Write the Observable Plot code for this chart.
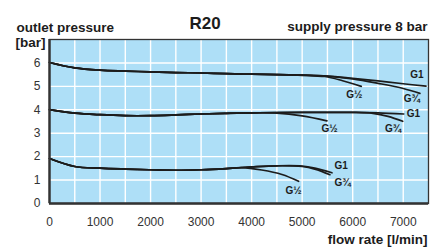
<!DOCTYPE html>
<html>
<head>
<meta charset="utf-8">
<script src="https://cdn.jsdelivr.net/npm/d3@7"></script>
<script src="https://cdn.jsdelivr.net/npm/@observablehq/plot@0.6"></script>
<style>
  html, body { margin: 0; padding: 0; background: #fff; }
  #chart svg { display: block; }
</style>
</head>
<body>
<div id="chart"></div>
<script>
// ---- data (flow rate l/min, outlet pressure bar) ----
const xTicks = [0, 1000, 2000, 3000, 4000, 5000, 6000, 7000];
const yTicks = [0, 1, 2, 3, 4, 5, 6];
const gridX = [500, 1000, 1500, 2000, 2500, 3000, 3500, 4000, 4500, 5000, 5500, 6000, 6500, 7000];
const gridY = [1, 2, 3, 4, 5, 6];

// inlet setting 6 bar
const top_G1   = [[0,6.02],[500,5.79],[1000,5.69],[1500,5.65],[2000,5.62],[2500,5.59],[3000,5.57],[3500,5.54],[4000,5.52],[4500,5.50],[5000,5.48],[5500,5.44],[6000,5.34],[6500,5.23],[7000,5.11],[7450,5.01]];
const top_G34  = [[0,6.02],[500,5.79],[1000,5.69],[1500,5.65],[2000,5.62],[2500,5.59],[3000,5.57],[3500,5.54],[4000,5.52],[4500,5.50],[5000,5.48],[5500,5.44],[6000,5.32],[6500,5.13],[7000,4.91],[7330,4.70]];
const top_G12  = [[0,6.02],[500,5.79],[1000,5.69],[1500,5.65],[2000,5.62],[2500,5.59],[3000,5.57],[3500,5.54],[4000,5.52],[4500,5.50],[5000,5.47],[5450,5.42],[5800,5.24],[6170,5.00]];
// setting 4 bar
const mid_G1   = [[0,4.01],[500,3.86],[1000,3.79],[1500,3.75],[2000,3.75],[2500,3.78],[3000,3.82],[3500,3.85],[4000,3.87],[4500,3.88],[5000,3.89],[5500,3.89],[6000,3.89],[6500,3.87],[7010,3.82]];
const mid_G34  = [[0,4.01],[500,3.86],[1000,3.79],[1500,3.75],[2000,3.75],[2500,3.78],[3000,3.82],[3500,3.85],[4000,3.87],[4500,3.88],[5000,3.89],[5500,3.89],[6000,3.89],[6400,3.85],[6700,3.72],[6990,3.51]];
const mid_G12  = [[0,4.01],[500,3.86],[1000,3.79],[1500,3.75],[2000,3.75],[2500,3.78],[3000,3.82],[3500,3.85],[4000,3.87],[4500,3.86],[5000,3.74],[5490,3.53]];
// setting 2 bar
const bot_G1   = [[0,1.92],[500,1.58],[1000,1.51],[1500,1.47],[2000,1.44],[2500,1.42],[3000,1.44],[3500,1.49],[4000,1.56],[4500,1.61],[5000,1.60],[5250,1.51],[5590,1.31]];
const bot_G34  = [[0,1.92],[500,1.58],[1000,1.51],[1500,1.47],[2000,1.44],[2500,1.42],[3000,1.44],[3500,1.49],[4000,1.56],[4500,1.61],[5000,1.58],[5250,1.47],[5550,1.23]];
const bot_G12  = [[0,1.92],[500,1.58],[1000,1.51],[1500,1.47],[2000,1.44],[2500,1.42],[3000,1.44],[3500,1.49],[3800,1.53],[4200,1.43],[4600,1.24],[4930,0.95]];

const seriesNames = ["top_G1","top_G34","top_G12","mid_G1","mid_G34","mid_G12","bot_G1","bot_G34","bot_G12"];
const seriesData  = [top_G1, top_G34, top_G12, mid_G1, mid_G34, mid_G12, bot_G1, bot_G34, bot_G12];

// curve labels
const labelText = ["G1","G¾","G½","G1","G¾","G½","G1","G¾","G½"];
const labelX    = [7270, 7170, 6030, 7200, 6800, 5540, 5770, 5800, 4830];
const labelY    = [5.48, 4.45, 4.65, 3.84, 3.20, 3.20, 1.60, 0.90, 0.54];

// titles
const titleLeft1 = "outlet pressure";
const titleLeft2 = "[bar]";
const titleMain  = "R20";
const titleRight = "supply pressure 8 bar";
const xLabel     = "flow rate [l/min]";

// ---- build tables ----
const lineRows = seriesData.flatMap((s, i) => s.map(([f, p]) => ({id: seriesNames[i], flow: f, p})));
const labelRows = labelText.map((t, i) => ({t, x: labelX[i], y: labelY[i]}));

const ink = "#1c1c1c";
const chart = Plot.plot({
  width: 438,
  height: 248,
  marginTop: 39,
  marginRight: 10,
  marginBottom: 45,
  marginLeft: 49,
  style: {fontFamily: "'Liberation Sans', Arial, Helvetica, sans-serif", background: "#fff", overflow: "visible"},
  x: {domain: [0, 7500]},
  y: {domain: [0, 7]},
  marks: [
    Plot.frame({fill: "#aedff7", stroke: null}),
    Plot.ruleX(gridX, {stroke: "#fff", strokeWidth: 1.4}),
    Plot.ruleY(gridY, {stroke: "#fff", strokeWidth: 1.4}),
    Plot.line(lineRows, {x: "flow", y: "p", z: "id", curve: "catmull-rom", stroke: ink, strokeWidth: 1.7}),
    Plot.text(labelRows, {x: "x", y: "y", text: "t", fontSize: 10, fontWeight: "bold", fill: ink}),
    Plot.frame({stroke: "#333", strokeWidth: 1.3}),
    Plot.ruleX([0], {stroke: "#333", strokeWidth: 2.4}),
    Plot.ruleY([0], {stroke: "#333", strokeWidth: 2.4}),
    Plot.axisX(xTicks, {tickSize: 0, tickPadding: 14, fontSize: 12, fill: "#333", label: null, tickFormat: d => String(d)}),
    Plot.axisY(yTicks, {tickSize: 0, tickPadding: 9, fontSize: 12, fill: "#333", label: null, tickFormat: d => String(d)}),
    Plot.text([titleLeft1], {frameAnchor: "top-left", dx: -33, dy: -7.5, textAnchor: "start", lineAnchor: "bottom", fontSize: 13.5, fontWeight: "bold", fill: ink}),
    Plot.text([titleLeft2], {frameAnchor: "top-left", dx: -34, dy: 7, textAnchor: "start", lineAnchor: "bottom", fontSize: 13.5, fontWeight: "bold", fill: ink}),
    Plot.text([titleMain], {frameAnchor: "top", dx: -34, dy: -10.5, textAnchor: "middle", lineAnchor: "bottom", fontSize: 17, fontWeight: "bold", fill: ink}),
    Plot.text([titleRight], {frameAnchor: "top-right", dx: -1, dy: -8.5, textAnchor: "end", lineAnchor: "bottom", fontSize: 13.5, fontWeight: "bold", fill: ink}),
    Plot.text([xLabel], {frameAnchor: "bottom-right", dx: -1, dy: 40, textAnchor: "end", lineAnchor: "bottom", fontSize: 13.5, fontWeight: "bold", fill: ink})
  ]
});
document.getElementById("chart").appendChild(chart);
</script>
</body>
</html>
